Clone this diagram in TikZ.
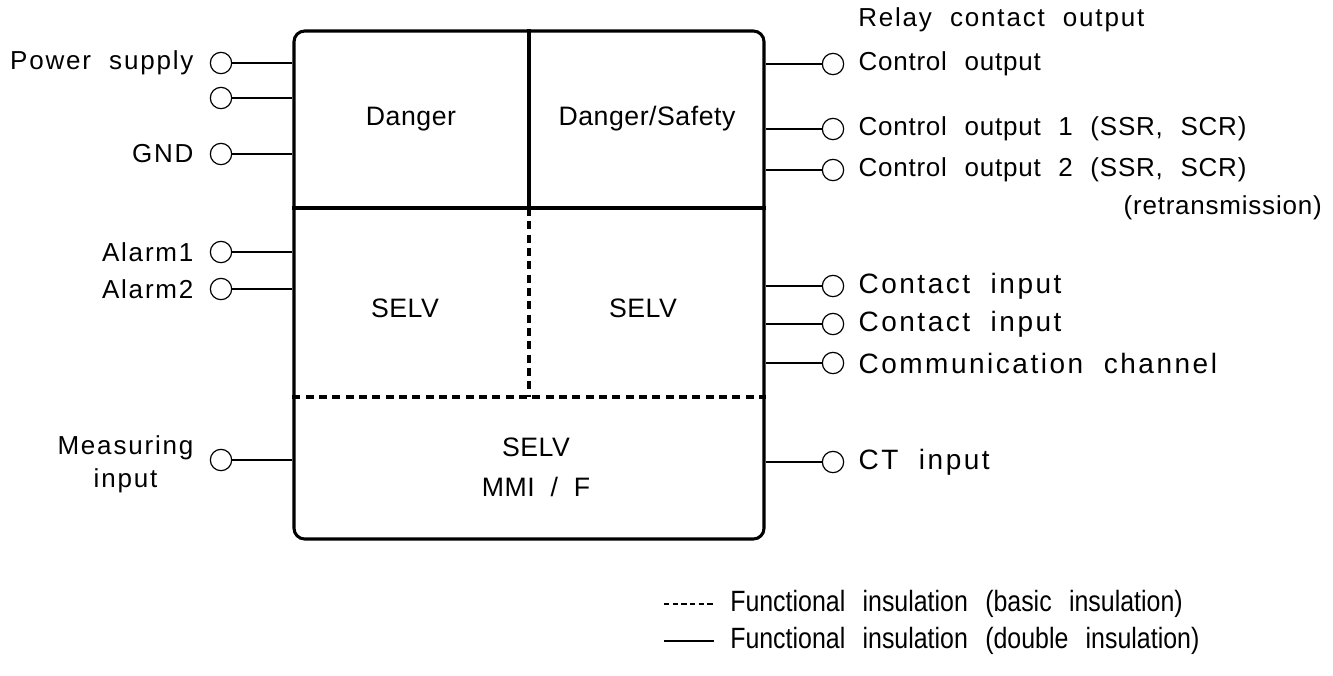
\documentclass[tikz,border=0pt]{standalone}
\usepackage{fontspec}
\setmainfont{Liberation Sans}
\newfontfamily\lblfont[LetterSpace=7,WordSpace=2]{Liberation Sans}
\newfontfamily\ctlfont[LetterSpace=3,WordSpace=2.2]{Liberation Sans}
\newfontfamily\infont[LetterSpace=9,WordSpace=2]{Liberation Sans}
\newfontfamily\zonefont[LetterSpace=2]{Liberation Sans}
\newfontfamily\keyfont[FakeStretch=0.85,WordSpace=2.5]{Liberation Sans}
\usetikzlibrary{positioning}
\tikzset{x=0.75pt, y=-0.75pt,
         node distance = 10.5pt,
         term/.style = {circle, draw, line width=0.9pt, minimum size=16pt, inner sep=0pt},
         wire/.style = {line width=1.6pt},
         wall/.style = {line width=2.3pt},
         basic/.style = {wall, dash pattern=on 6pt off 4pt},
         zone/.style = {font=\zonefont\fontsize{20}{30}\selectfont, align=center},
         lbl/.style = {font=\lblfont\fontsize{19.5}{24}\selectfont, inner sep=0pt},
         ctl/.style = {font=\ctlfont\fontsize{19.5}{24}\selectfont, inner sep=0pt},
         inlbl/.style = {font=\infont\fontsize{21}{26}\selectfont, inner sep=0pt},
         key/.style = {font=\keyfont\fontsize{22}{26}\selectfont, inner sep=0pt}}

\begin{document}
\begin{tikzpicture}
        \useasboundingbox (0,0) rectangle (1333,675);

        % housing and insulation walls
        \node[draw, wall, rounded corners=8pt, minimum width=352.5pt,
              minimum height=381pt, inner sep=0pt] (box) at (529,285) {};
        \coordinate (mid) at (529,208);
        \coordinate (low) at (529,397);
        \draw[wall]  (box.north) -- (mid);
        \draw[wall]  (mid -| box.west) -- (mid -| box.east);
        \draw[basic] (mid) -- (low);
        \draw[basic] (low -| box.west) -- (low -| box.east);

        \node[zone] (danger) at (411,119) {Danger};
        \node[zone] (dsafe)  at (647,119) {Danger/Safety};
        \node[zone] (selvl)  at (405,308) {SELV};
        \node[zone] (selvr)  at (643,308) {SELV};
        \node[zone] (selvb)  at (536,467) {SELV\\MMI \ / \ F};

        % left terminals
        \foreach \name/\y in {ps/63, aux/98, gnd/154, al1/252, al2/289, meas/460}
          {\node[term] (\name) at (221,\y) {};
           \draw[wire] (\name) -- (\name -| box.west);}

        \node[lbl, left = 12pt of ps]  {Power supply};
        \node[lbl, left = 12pt of gnd] {GND};
        \node[lbl, left = 12pt of al1] {Alarm1};
        \node[lbl, left = 12pt of al2] {Alarm2};
        \node[lbl, left = 12pt of meas, align=center, yshift=-3pt,
              font=\lblfont\fontsize{19.5}{25}\selectfont] {Measuring\\input};

        % right terminals
        \foreach \name/\y in {co/64, coa/129, cob/170, cia/286, cib/324, com/363, ct/462}
          {\node[term] (\name) at (833,\y) {};
           \draw[wire] (\name) -- (\name -| box.east);}

        \node[lbl, anchor=west] (relay) at (858,20) {Relay contact output};
        \node[ctl, right = of co]  {Control output};
        \node[ctl, right = of coa] {Control output 1 (SSR, SCR)};
        \node[ctl, right = of cob] {Control output 2 (SSR, SCR)};
        \node[ctl, anchor=east] (retr) at (1322,208) {(retransmission)};
        \node[inlbl, right = of cia] {Contact input};
        \node[inlbl, right = of cib] {Contact input};
        \node[inlbl, right = of com] {Communication channel};
        \node[inlbl, right = of ct]  {CT input};

        % legend
        \coordinate (da) at (664,604);
        \coordinate (db) at (714,604);
        \coordinate (sa) at (664,641);
        \coordinate (sb) at (714,641);
        \draw[line width=1.3pt, dash pattern=on 4pt off 2.5pt] (da) -- (db);
        \draw[line width=2pt] (sa) -- (sb);
        \node[key, right = 12pt of db] {Functional insulation (basic insulation)};
        \node[key, right = 12pt of sb] {Functional insulation (double insulation)};
\end{tikzpicture}
\end{document}
